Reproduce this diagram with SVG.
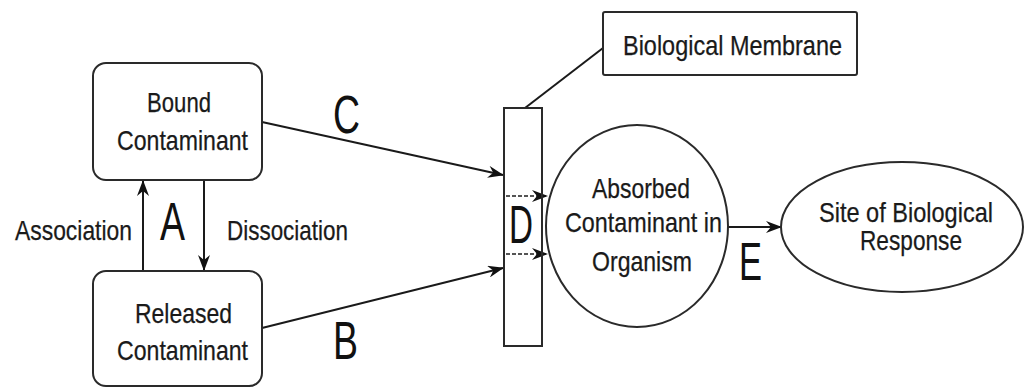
<svg xmlns="http://www.w3.org/2000/svg" width="1024" height="389" viewBox="0 0 1024 389">
  <defs>
    <style>
      .box { fill: #ffffff; stroke: #2a2a2a; stroke-width: 2; }
      .line { fill: none; stroke: #1a1a1a; stroke-width: 2; }
      .dash { fill: none; stroke: #555555; stroke-width: 2; stroke-dasharray: 4 2; }
      .lbl { font-family: "Liberation Sans", Arial, sans-serif; font-size: 28px; fill: #1a1a1a; stroke: #1a1a1a; stroke-width: 0.25; }
      .big { font-family: "Liberation Sans", Arial, sans-serif; font-size: 53px; fill: #111111; }
    </style>
    <marker id="arrow" viewBox="0 0 16 12" refX="15" refY="6" markerWidth="16" markerHeight="12" markerUnits="userSpaceOnUse" orient="auto">
      <path d="M0,0 L16,6 L0,12 L5,6 z" fill="#111111"/>
    </marker>
  </defs>
  <rect width="1024" height="389" fill="#ffffff"/>

  <!-- connectors -->
  <g id="connectors">
    <line class="line" x1="143" y1="271" x2="143" y2="181" marker-end="url(#arrow)"/>
    <line class="line" x1="204" y1="180" x2="204" y2="270" marker-end="url(#arrow)"/>
    <line class="line" x1="262" y1="122" x2="503" y2="175" marker-end="url(#arrow)"/>
    <line class="line" x1="262" y1="328" x2="503" y2="268" marker-end="url(#arrow)"/>
    <line class="dash" x1="506" y1="196" x2="547" y2="196" marker-end="url(#arrow)"/>
    <line class="dash" x1="506" y1="254" x2="547" y2="254" marker-end="url(#arrow)"/>
    <line class="line" x1="728" y1="227" x2="781" y2="227" marker-end="url(#arrow)"/>
    <line class="line" x1="525" y1="108" x2="603" y2="48"/>
  </g>

  <!-- edge labels -->
  <g id="edge-labels">
    <text class="lbl" x="15" y="240" textLength="117" lengthAdjust="spacingAndGlyphs">Association</text>
    <text class="lbl" x="227" y="240" textLength="121" lengthAdjust="spacingAndGlyphs">Dissociation</text>
    <text class="big" x="160" y="240" textLength="25" lengthAdjust="spacingAndGlyphs">A</text>
    <text class="big" x="333" y="133" textLength="27" lengthAdjust="spacingAndGlyphs">C</text>
    <text class="big" x="333" y="359" textLength="25" lengthAdjust="spacingAndGlyphs">B</text>
    <text class="big" x="739" y="280" textLength="23" lengthAdjust="spacingAndGlyphs">E</text>
  </g>

  <g id="bound">
    <rect class="box" x="93" y="63" width="169" height="117" rx="13"/>
    <text class="lbl" x="147" y="112" textLength="64" lengthAdjust="spacingAndGlyphs">Bound</text>
    <text class="lbl" x="117" y="150" textLength="131" lengthAdjust="spacingAndGlyphs">Contaminant</text>
  </g>

  <g id="released">
    <rect class="box" x="93" y="271" width="169" height="115" rx="13"/>
    <text class="lbl" x="135" y="323" textLength="97" lengthAdjust="spacingAndGlyphs">Released</text>
    <text class="lbl" x="117" y="360" textLength="131" lengthAdjust="spacingAndGlyphs">Contaminant</text>
  </g>

  <g id="membrane">
    <rect class="box" x="504" y="108" width="38" height="238" style="fill:none"/>
    <text class="big" x="509" y="243" textLength="24" lengthAdjust="spacingAndGlyphs">D</text>
  </g>

  <g id="membrane-label">
    <rect class="box" x="603" y="12" width="254" height="63" rx="2"/>
    <text class="lbl" x="623" y="55" textLength="219" lengthAdjust="spacingAndGlyphs">Biological Membrane</text>
  </g>

  <g id="absorbed">
    <ellipse class="box" cx="637" cy="226" rx="91" ry="101"/>
    <text class="lbl" x="592" y="198" textLength="98" lengthAdjust="spacingAndGlyphs">Absorbed</text>
    <text class="lbl" x="565" y="232" textLength="157" lengthAdjust="spacingAndGlyphs">Contaminant in</text>
    <text class="lbl" x="592" y="271" textLength="100" lengthAdjust="spacingAndGlyphs">Organism</text>
  </g>

  <g id="response">
    <ellipse class="box" cx="902" cy="227" rx="121" ry="65"/>
    <text class="lbl" x="819" y="222" textLength="174" lengthAdjust="spacingAndGlyphs">Site of Biological</text>
    <text class="lbl" x="860" y="250" textLength="102" lengthAdjust="spacingAndGlyphs">Response</text>
  </g>
</svg>
